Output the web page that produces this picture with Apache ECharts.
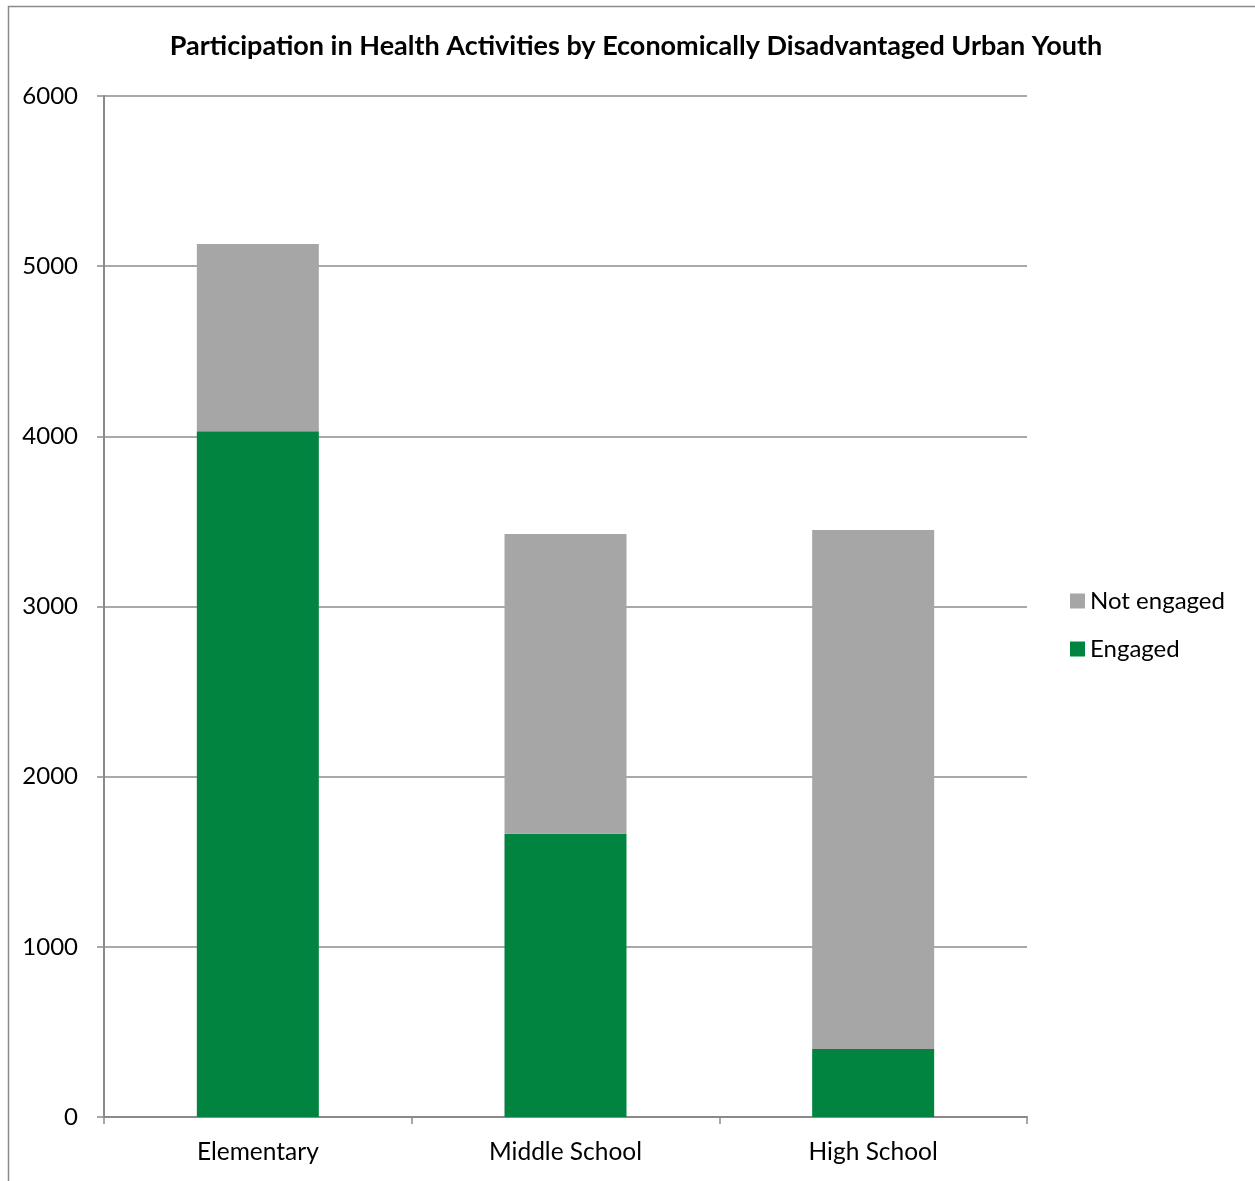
<!DOCTYPE html>
<html>
<head>
<meta charset="utf-8">
<script src="https://cdn.jsdelivr.net/npm/echarts@6/dist/echarts.min.js"></script>
<style>
  html, body { margin: 0; padding: 0; background: #fff; }
  #chart { width: 1255px; height: 1181px; }
</style>
</head>
<body>
<div id="chart"></div>
<script>
// Student counts by school level
const categories = ['Elementary', 'Middle School', 'High School'];
const engaged = [4030, 1665, 400];
const notEngaged = [1100, 1761, 3050];
const yTicks = { min: 0, max: 6000, interval: 1000 };

const FONT = 'Lato, "Open Sans", sans-serif';
const chart = echarts.init(document.getElementById('chart'), null, { renderer: 'canvas' });

chart.setOption({
  backgroundColor: '#ffffff',
  animation: false,
  textStyle: { fontFamily: FONT, color: '#000' },
  graphic: [{
    type: 'rect',
    shape: { x: 8.5, y: 6.5, width: 1300, height: 1300 },
    style: { fill: 'none', stroke: '#8a8a8a', lineWidth: 1.5 },
    silent: true
  }],
  title: {
    text: 'Participation in Health Activities by Economically Disadvantaged Urban Youth',
    left: 631, textAlign: 'center', top: 28,
    textStyle: { fontFamily: FONT, fontSize: 27, fontWeight: 'bold', color: '#000' }
  },
  legend: {
    orient: 'vertical',
    left: 1065, top: 584,
    itemWidth: 15, itemHeight: 15, itemGap: 24,
    icon: 'rect',
    data: ['Not engaged', 'Engaged'],
    textStyle: { fontFamily: FONT, fontSize: 24, color: '#000' }
  },
  grid: { left: 104, right: 228, top: 96, bottom: 64 },
  xAxis: {
    type: 'category',
    data: categories,
    axisLine: { lineStyle: { color: '#8a8a8a', width: 2 } },
    axisTick: { show: true, length: 7, lineStyle: { color: '#8a8a8a', width: 1.5 } },
    axisLabel: { fontFamily: FONT, fontSize: 24.5, color: '#000', margin: 23 }
  },
  yAxis: {
    type: 'value',
    min: yTicks.min, max: yTicks.max, interval: yTicks.interval,
    axisLine: { show: true, lineStyle: { color: '#8a8a8a', width: 2 } },
    axisTick: { show: true, length: 7, lineStyle: { color: '#8a8a8a', width: 1.5 } },
    splitLine: { lineStyle: { color: '#8c8c8c', width: 1.5 } },
    axisLabel: {
      fontFamily: FONT, fontSize: 24, color: '#000', margin: 26,
      formatter: (v) => String(v)
    }
  },
  series: [
    {
      name: 'Engaged', type: 'bar', stack: 'total',
      data: engaged, barWidth: 122,
      itemStyle: { color: '#00843f' }
    },
    {
      name: 'Not engaged', type: 'bar', stack: 'total',
      data: notEngaged, barWidth: 122,
      itemStyle: { color: '#a6a6a6' }
    }
  ]
});
</script>
</body>
</html>
